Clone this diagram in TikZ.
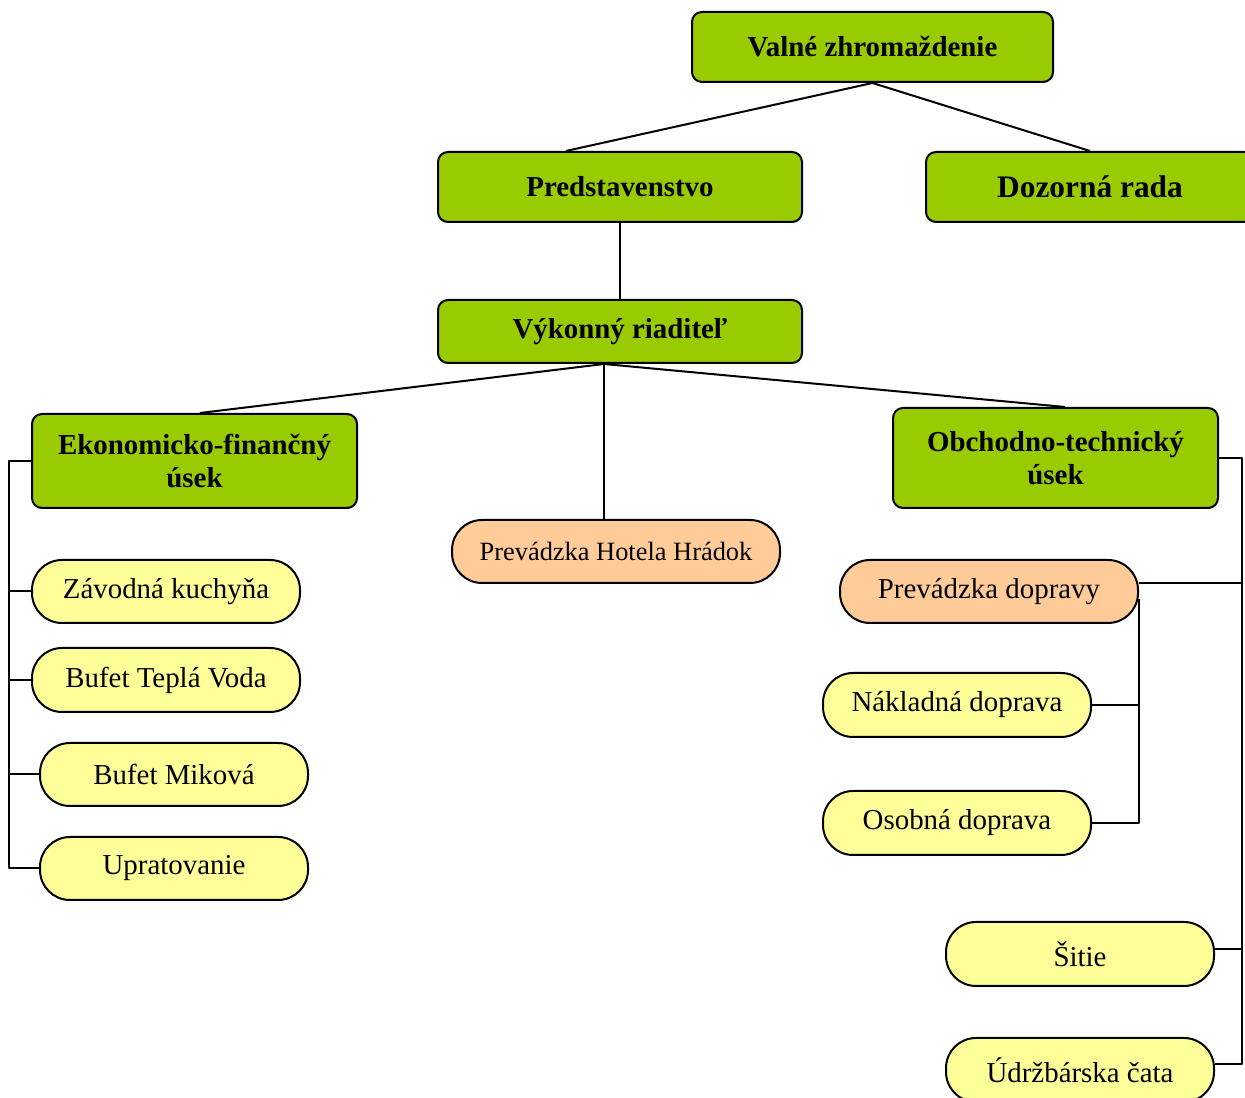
\documentclass[tikz,border=0pt]{standalone}
\usepackage{fontspec}
\setmainfont{Liberation Serif}
\usepackage{tikz}
\definecolor{boardgreen}{RGB}{153,204,0}
\definecolor{unityellow}{RGB}{255,255,153}
\definecolor{unitorange}{RGB}{255,204,153}

\begin{document}
\begin{tikzpicture}[line join=bevel,
  board/.style={draw, fill=boardgreen, rounded corners=10bp, inner sep=0pt, align=center, font=\fontsize{29}{33.5}\selectfont\bfseries},
  unit/.style={draw, fill=unityellow, rounded corners=30bp, inner sep=0pt, minimum width=268bp, minimum height=63bp, font=\fontsize{29}{33}\selectfont},
  plant/.style={unit, fill=unitorange},
]
  \pgfsetlinewidth{2bp}
  \useasboundingbox (0bp,0bp) rectangle (1245bp,1098bp);
%%
  % Node: vz
  \node[board, minimum width=361bp, minimum height=70bp] (vz) at (872.5bp,1051bp) {Valné zhromaždenie};
  % Node: pred
  \node[board, minimum width=364bp, minimum height=70bp] (pred) at (620bp,911bp) {Predstavenstvo};
  % Node: dozor
  \node[board, minimum width=328bp, minimum height=70bp, font=\fontsize{31.5}{36}\selectfont\bfseries] (dozor) at (1090bp,911bp) {Dozorná rada};
  % Node: vr
  \node[board, minimum width=364bp, minimum height=63bp] (vr) at (620bp,766.5bp) {Výkonný riaditeľ};
  % Node: ef
  \node[board, minimum width=325bp, minimum height=94bp] (ef) at (194.5bp,637bp) {Ekonomicko-finančný\\úsek};
  % Node: ot
  \node[board, minimum width=325bp, minimum height=100bp] (ot) at (1055.5bp,640bp) {Obchodno-technický\\úsek};
  % Node: hotel
  \node[plant, minimum width=328bp, font=\fontsize{26.5}{30}\selectfont] (hotel) at (616bp,546.5bp) {Prevádzka Hotela Hrádok};
  % Node: zk
  \node[unit] (zk) at (166bp,506.5bp) {Závodná kuchyňa};
  % Node: btv
  \node[unit, minimum height=64bp] (btv) at (166bp,418bp) {Bufet Teplá Voda};
  % Node: bm
  \node[unit] (bm) at (174bp,323.5bp) {Bufet Miková};
  % Node: upr
  \node[unit] (upr) at (174bp,229.5bp) {Upratovanie};
  % Node: pd
  \node[plant, minimum width=298bp] (pd) at (989bp,506.5bp) {Prevádzka dopravy};
  % Node: nd
  \node[unit, minimum height=64bp] (nd) at (957bp,393bp) {Nákladná doprava};
  % Node: od
  \node[unit, minimum height=64bp] (od) at (957bp,275bp) {Osobná doprava};
  % Node: sit
  \node[unit, minimum height=64bp] (sit) at (1080bp,144bp) {Šitie};
  % Node: udr
  \node[unit, minimum height=64bp] (udr) at (1080bp,28bp) {Údržbárska čata};
%%
  % Edge: vz -> pred
  \draw (vz.south) -- ([xshift=-54bp]pred.north);
  % Edge: vz -> dozor
  \draw (vz.south) -- (dozor.north);
  % Edge: pred -> vr
  \draw (pred.south) -- (vr.north);
  % Edge: vr -> ef, hotel, ot
  \coordinate (vrfoot) at ([xshift=-16bp]vr.south);
  \draw (vrfoot) -- ([xshift=5.5bp]ef.north);
  \draw (vrfoot) -- (vrfoot |- hotel.north);
  \draw (vrfoot) -- ([xshift=9.5bp]ot.north);
  % Edge: ef -> zk, btv, bm, upr
  \coordinate (efrail) at ([xshift=-22bp]ef.west);
  \draw (ef.west) -- (efrail) |- (upr.west);
  \foreach \n in {zk,btv,bm}
    \draw (efrail |- \n.west) -- (\n.west);
  % Edge: ot -> pd, sit, udr
  \coordinate (otrail) at ([xshift=23bp]ot.east);
  \coordinate (pdup) at ([yshift=8bp]pd.east);
  \coordinate (pddown) at ([yshift=-8bp]pd.east);
  \coordinate (sitend) at ([yshift=5bp]sit.east);
  \coordinate (udrend) at ([yshift=6bp]udr.east);
  \draw (ot.east) -- (otrail) |- (udrend);
  \draw (pdup) -- (otrail |- pdup);
  \draw (sitend) -- (otrail |- sitend);
  % Edge: pd -> nd, od
  \draw (pddown) |- (od.east);
  \draw (nd.east) -- (pddown |- nd.east);
%
\end{tikzpicture}
\end{document}
